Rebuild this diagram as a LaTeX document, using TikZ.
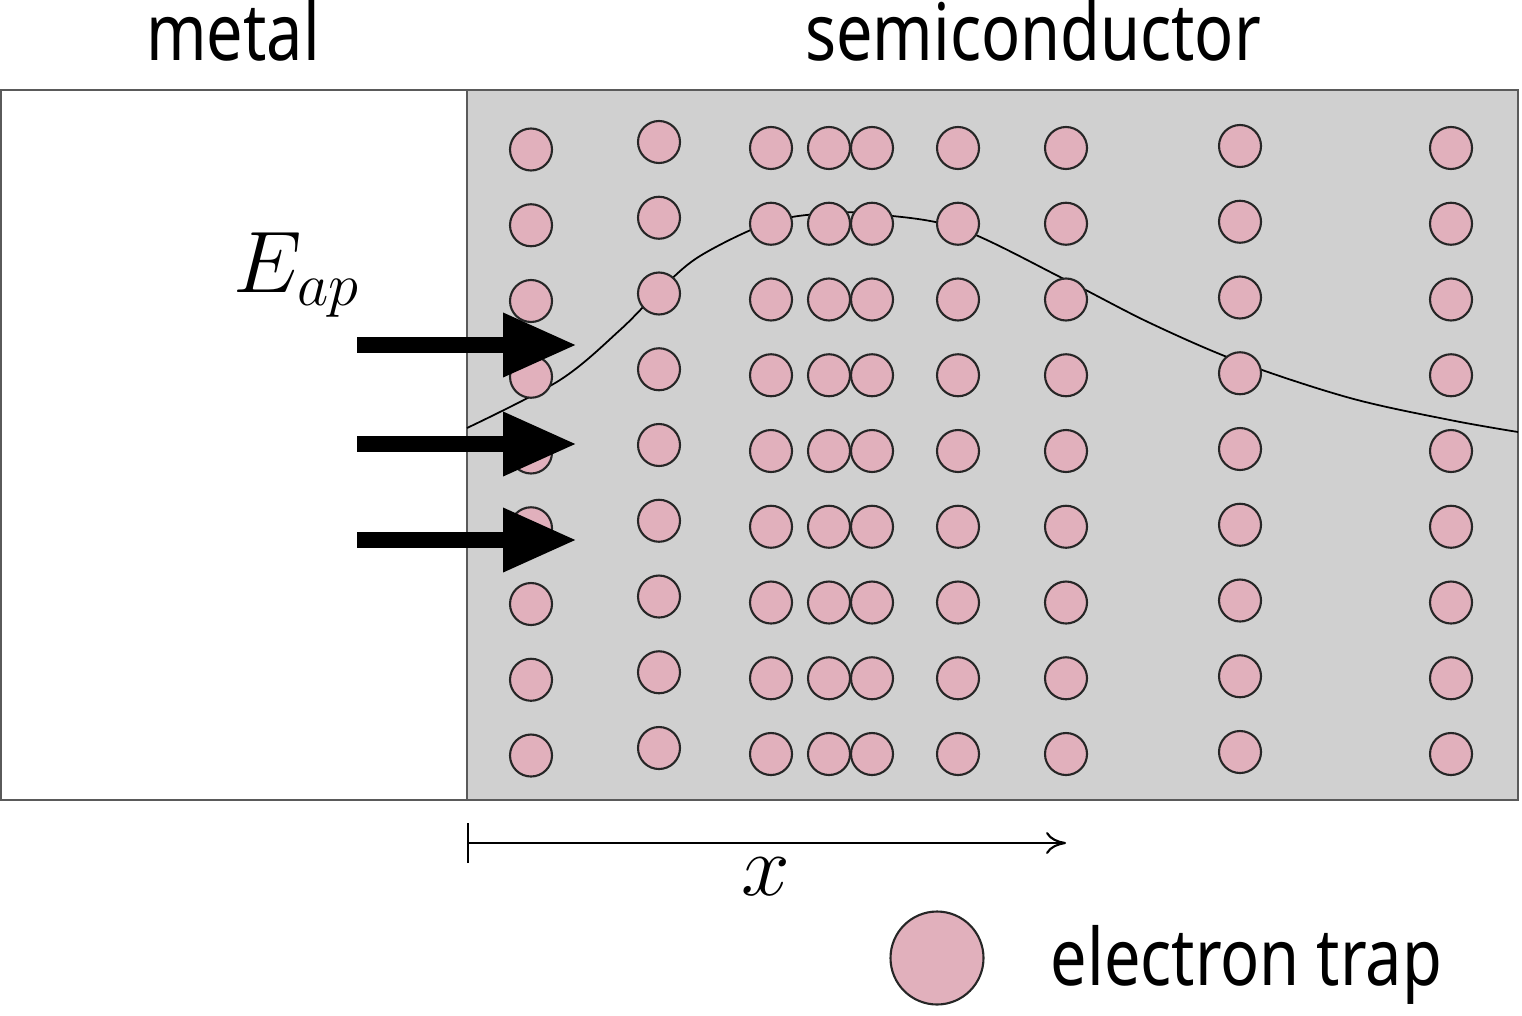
\documentclass[tikz,border=0pt]{standalone}
\usepackage[no-math]{fontspec}
\setmainfont{Noto Sans}[FakeStretch=0.82]
\usepackage{xcolor}
\usepackage{tikz}
\usetikzlibrary{calc, arrows.meta, positioning}

\definecolor{trappink}{RGB}{225,176,188}
\definecolor{semigray}{RGB}{208,208,208}
\definecolor{edgegray}{RGB}{90,90,90}

\tikzset{
    trap/.style={circle, draw=black!85, line width=0.6pt, fill=trappink,
        minimum size=0.42cm, inner sep=0pt},
    label/.style={font=\fontsize{22.5}{26}\selectfont, inner sep=0pt},
    field/.style={line width=0.16cm, -{Triangle[length=0.74cm, width=0.6cm]}}
}

\begin{document}
\begin{tikzpicture}[>=latex]
    \useasboundingbox (0,0) rectangle (15.22,10.15);

    % Kim loại và bán dẫn
    \draw[edgegray, line width=0.6pt] (0.01,2.15) rectangle (4.67,9.25);
    \draw[edgegray, line width=0.6pt, fill=semigray] (4.67,2.15) rectangle (15.18,9.25);
    \node[label, anchor=base] (metal) at (2.33,9.55) {metal};
    \node[label, anchor=base] (semi) at (10.33,9.55) {semiconductor};

    % Đường cong
    \draw[line width=0.5pt] plot[smooth, tension=0.55] coordinates {
        (4.67,5.87) (5.60,6.35) (6.20,6.85) (6.59,7.24) (7.00,7.59)
        (7.71,7.93) (8.30,8.02) (8.72,8.01) (9.58,7.87) (10.66,7.35)
        (11.50,6.92) (12.40,6.53) (13.50,6.17) (14.50,5.95) (15.18,5.83)};

    % Bẫy điện tử
    \foreach \cx/\off [count=\c] in {5.31/-0.015, 6.59/0.06, 7.71/0, 8.29/0,
            8.72/0, 9.58/0, 10.66/0, 12.40/0.02, 14.51/0}
        \foreach \r in {0,...,8}
            \node[trap] (t-\c-\r) at (\cx, {8.67+\off-0.7575*\r}) {};

    % Điện trường
    \node[inner sep=0pt, anchor=base west] (eap) at (2.33,7.23)
        {\fontsize{25}{30}\selectfont $E_{ap}$};
    \foreach \y [count=\i] in {6.70, 5.71, 4.75} {
        \coordinate (f\i s) at (3.57,\y);
        \coordinate (f\i e) at (5.77,\y);
        \draw[field] (f\i s) -- (f\i e);
    }

    % Trục x
    \coordinate (x0) at (4.67,1.72);
    \coordinate (x1) at (10.66,1.72);
    \draw[line width=0.6pt, {Bar[width=0.4cm]}-{To[length=0.2cm, width=0.22cm]}] (x0) -- (x1);
    \node[inner sep=0pt] (xlab) at (7.66,1.38) {\fontsize{24}{28}\selectfont $x$};

    % Chú thích
    \node[trap, minimum size=0.93cm] (legtrap) at (9.37,0.57) {};
    \node[label, anchor=base west] (legtext) at (10.50,0.30) {electron trap};
\end{tikzpicture}
\end{document}
